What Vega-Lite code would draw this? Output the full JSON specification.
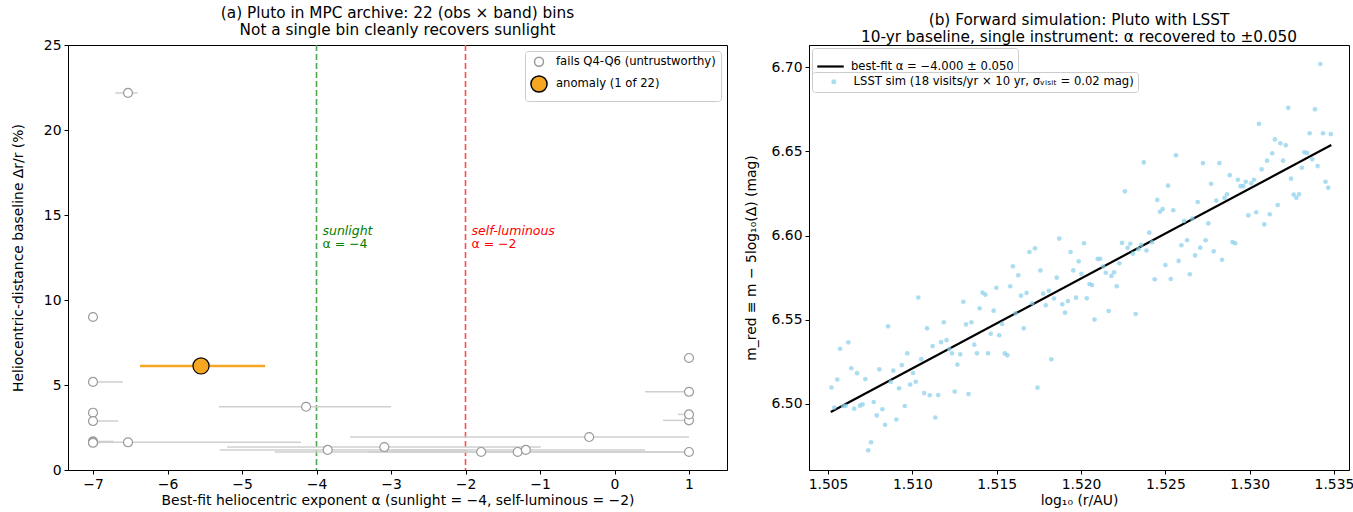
{
  "$schema": "https://vega.github.io/schema/vega-lite/v6.json",
  "padding": {"left": 10, "right": 4, "top": 5, "bottom": 1},
  "spacing": 15,
  "resolve": {
    "scale": {"color": "independent", "fill": "independent", "stroke": "independent", "size": "independent", "strokeWidth": "independent"},
    "legend": {"color": "independent", "fill": "independent", "stroke": "independent", "size": "independent", "strokeWidth": "independent"}
  },
  "config": {
    "font": "DejaVu Sans",
    "view": {"stroke": "black", "strokeWidth": 1},
    "axis": {"grid": false, "domainColor": "black", "tickColor": "black", "labelColor": "black", "titleColor": "black", "labelFontSize": 13.9, "titleFontSize": 13.9, "titleFontWeight": "normal", "tickSize": 4, "labelPadding": 3, "labelFont": "DejaVu Sans", "titleFont": "DejaVu Sans"},
    "title": {"fontSize": 15.3, "fontWeight": "normal", "font": "DejaVu Sans", "lineHeight": 17, "color": "black"},
    "legend": {"labelFont": "DejaVu Sans", "labelFontSize": 11.6, "labelColor": "black", "labelLimit": 500}
  },
  "hconcat": [
    {
      "width": 659,
      "height": 425,
      "title": {"text": ["(a) Pluto in MPC archive: 22 (obs × band) bins", "Not a single bin cleanly recovers sunlight"], "offset": 0},
      "resolve": {"scale": {"color": "independent", "strokeWidth": "independent"}},
      "layer": [
        {
          "data": {"values": [{"a": -4, "grp": "sun"}, {"a": -2, "grp": "self"}]},
          "mark": {"type": "rule", "strokeDash": [6, 3], "strokeWidth": 1.6},
          "encoding": {
            "x": {"field": "a", "type": "quantitative", "scale": {"domain": [-7.3356, 1.51], "nice": false, "zero": false}, "axis": {"values": [-7, -6, -5, -4, -3, -2, -1, 0, 1], "format": "d", "title": "Best-fit heliocentric exponent α  (sunlight = −4, self-luminous = −2)", "titlePadding": 3}},
            "color": {"field": "grp", "type": "nominal", "scale": {"domain": ["sun", "self"], "range": ["#4ca64c", "#ff4c4c"]}, "legend": null}
          }
        },
        {
          "data": {"values": [{"a": -3.92, "dr": 14.06, "label": "sunlight", "grp": "sun"}, {"a": -1.92, "dr": 14.06, "label": "self-luminous", "grp": "self"}]},
          "mark": {"type": "text", "align": "left", "baseline": "middle", "fontStyle": "italic", "fontSize": 12.5},
          "encoding": {
            "x": {"field": "a", "type": "quantitative"},
            "y": {"field": "dr", "type": "quantitative"},
            "text": {"field": "label"},
            "color": {"field": "grp", "type": "nominal", "scale": {"domain": ["sun", "self"], "range": ["#008000", "#ff0000"]}, "legend": null}
          }
        },
        {
          "data": {"values": [{"a": -3.92, "dr": 13.3, "label": "α = −4", "grp": "sun"}, {"a": -1.92, "dr": 13.3, "label": "α = −2", "grp": "self"}]},
          "mark": {"type": "text", "align": "left", "baseline": "middle", "fontSize": 12.5},
          "encoding": {
            "x": {"field": "a", "type": "quantitative"},
            "y": {"field": "dr", "type": "quantitative"},
            "text": {"field": "label"},
            "color": {"field": "grp", "type": "nominal", "scale": {"domain": ["sun", "self"], "range": ["#008000", "#ff0000"]}, "legend": null}
          }
        },
        {
          "data": {"name": "bins"},
          "mark": {"type": "rule"},
          "encoding": {
            "x": {"field": "lo", "type": "quantitative"},
            "x2": {"field": "hi"},
            "y": {"field": "dr", "type": "quantitative"},
            "color": {"field": "kind", "type": "nominal", "scale": {"domain": ["fails Q4-Q6 (untrustworthy)", "anomaly (1 of 22)"], "range": ["#cfcfcf", "#f5a623"]}, "legend": null},
            "strokeWidth": {"field": "kind", "type": "ordinal", "scale": {"domain": ["fails Q4-Q6 (untrustworthy)", "anomaly (1 of 22)"], "range": [1.5, 2.5]}, "legend": null}
          }
        },
        {
          "data": {"name": "bins"},
          "mark": {"type": "point", "shape": "circle", "filled": false, "opacity": 1, "strokeWidth": 1.2},
          "encoding": {
            "x": {"field": "alpha", "type": "quantitative"},
            "y": {"field": "dr", "type": "quantitative", "scale": {"domain": [0, 25], "nice": false, "zero": false}, "axis": {"values": [0, 5, 10, 15, 20, 25], "title": "Heliocentric-distance baseline  Δr/r  (%)", "titlePadding": 18}},
            "fill": {"field": "kind", "type": "nominal", "scale": {"domain": ["fails Q4-Q6 (untrustworthy)", "anomaly (1 of 22)"], "range": ["white", "#f5a623"]},
              "legend": {"title": null, "orient": "top-right", "offset": 6, "fillColor": "white", "strokeColor": "#cccccc", "cornerRadius": 3, "padding": 5, "rowPadding": 2, "labelOffset": 8}},
            "stroke": {"field": "kind", "type": "nominal", "scale": {"domain": ["fails Q4-Q6 (untrustworthy)", "anomaly (1 of 22)"], "range": ["#9a9a9a", "black"]},
              "legend": {"title": null, "orient": "top-right", "offset": 6, "fillColor": "white", "strokeColor": "#cccccc", "cornerRadius": 3, "padding": 5, "rowPadding": 2, "labelOffset": 8}},
            "size": {"field": "kind", "type": "nominal", "scale": {"domain": ["fails Q4-Q6 (untrustworthy)", "anomaly (1 of 22)"], "range": [80, 260]},
              "legend": {"title": null, "orient": "top-right", "offset": 6, "fillColor": "white", "strokeColor": "#cccccc", "cornerRadius": 3, "padding": 5, "rowPadding": 2, "labelOffset": 8}}
          }
        }
      ]
    },
    {
      "width": 540,
      "height": 425,
      "title": {"text": ["(b) Forward simulation: Pluto with LSST", "10-yr baseline, single instrument: α recovered to ±0.050"], "offset": 0},
      "layer": [
        {
          "data": {"values": [{"logr": 1.50516, "mred": 6.4953}, {"logr": 1.53484, "mred": 6.6537}]},
          "mark": {"type": "line", "strokeWidth": 2.2},
          "encoding": {
            "x": {"field": "logr", "type": "quantitative", "scale": {"domain": [1.50387, 1.53589], "nice": false, "zero": false}, "axis": {"values": [1.505, 1.51, 1.515, 1.52, 1.525, 1.53, 1.535], "format": ".3f", "title": "log₁₀ (r/AU)", "titlePadding": 3}},
            "y": {"field": "mred", "type": "quantitative", "scale": {"domain": [6.46083, 6.71306], "nice": false, "zero": false}, "axis": {"values": [6.5, 6.55, 6.6, 6.65, 6.7], "format": ".2f", "title": "m_red ≡ m − 5log₁₀(Δ)  (mag)", "titlePadding": 13}},
            "stroke": {"datum": "best-fit α = −4.000 ± 0.050", "type": "nominal", "scale": {"range": ["black"]},
              "legend": {"title": null, "orient": "top-left", "offset": 3, "fillColor": "white", "strokeColor": "#cccccc", "cornerRadius": 3, "padding": 4, "symbolSize": 700, "symbolStrokeWidth": 2.2, "labelOffset": 6}}
          }
        },
        {
          "data": {"name": "sim"},
          "mark": {"type": "circle", "size": 22, "opacity": 0.7},
          "encoding": {
            "x": {"field": "logr", "type": "quantitative"},
            "y": {"field": "mred", "type": "quantitative"},
            "color": {"datum": "LSST sim (18 visits/yr × 10 yr, σᵥᵢₛᵢₜ = 0.02 mag)", "type": "nominal", "scale": {"range": ["#87ceeb"]},
              "legend": {"title": null, "orient": "none", "legendX": 3, "legendY": 27, "fillColor": "white", "strokeColor": "#cccccc", "cornerRadius": 3, "padding": 4, "symbolSize": 25, "labelOffset": 14, "symbolOffset": 12}}
          }
        }
      ]
    }
  ],
  "datasets": {
    "bins": [
      {"alpha": -6.53, "lo": -6.70, "hi": -6.40, "dr": 22.18, "kind": "fails Q4-Q6 (untrustworthy)"},
      {"alpha": -7, "lo": -7, "hi": -7, "dr": 9.0, "kind": "fails Q4-Q6 (untrustworthy)"},
      {"alpha": -7, "lo": -7, "hi": -6.6, "dr": 5.18, "kind": "fails Q4-Q6 (untrustworthy)"},
      {"alpha": -7, "lo": -7.04, "hi": -6.96, "dr": 3.37, "kind": "fails Q4-Q6 (untrustworthy)"},
      {"alpha": -7, "lo": -7, "hi": -6.66, "dr": 2.88, "kind": "fails Q4-Q6 (untrustworthy)"},
      {"alpha": -7, "lo": -7, "hi": -6.72, "dr": 1.68, "kind": "fails Q4-Q6 (untrustworthy)"},
      {"alpha": -7, "lo": -7, "hi": -6.8, "dr": 1.63, "kind": "fails Q4-Q6 (untrustworthy)"},
      {"alpha": -7, "lo": -7, "hi": -6.9, "dr": 1.6, "kind": "fails Q4-Q6 (untrustworthy)"},
      {"alpha": -6.53, "lo": -7, "hi": -4.21, "dr": 1.63, "kind": "fails Q4-Q6 (untrustworthy)"},
      {"alpha": -4.14, "lo": -5.31, "hi": -3.0, "dr": 3.72, "kind": "fails Q4-Q6 (untrustworthy)"},
      {"alpha": -3.85, "lo": -5.3, "hi": -2.0, "dr": 1.18, "kind": "fails Q4-Q6 (untrustworthy)"},
      {"alpha": -3.09, "lo": -5.2, "hi": -0.99, "dr": 1.35, "kind": "fails Q4-Q6 (untrustworthy)"},
      {"alpha": -1.79, "lo": -4.56, "hi": 1.0, "dr": 1.06, "kind": "fails Q4-Q6 (untrustworthy)"},
      {"alpha": -1.30, "lo": -3.3, "hi": 0.41, "dr": 1.06, "kind": "fails Q4-Q6 (untrustworthy)"},
      {"alpha": -1.19, "lo": -3.0, "hi": 0.41, "dr": 1.18, "kind": "fails Q4-Q6 (untrustworthy)"},
      {"alpha": -0.34, "lo": -3.55, "hi": 1.0, "dr": 1.94, "kind": "fails Q4-Q6 (untrustworthy)"},
      {"alpha": 1, "lo": 0.41, "hi": 1, "dr": 1.06, "kind": "fails Q4-Q6 (untrustworthy)"},
      {"alpha": 1, "lo": 0.65, "hi": 1, "dr": 2.92, "kind": "fails Q4-Q6 (untrustworthy)"},
      {"alpha": 1, "lo": 0.85, "hi": 1, "dr": 3.27, "kind": "fails Q4-Q6 (untrustworthy)"},
      {"alpha": 1, "lo": 0.41, "hi": 1, "dr": 4.6, "kind": "fails Q4-Q6 (untrustworthy)"},
      {"alpha": 1, "lo": 1, "hi": 1, "dr": 6.59, "kind": "fails Q4-Q6 (untrustworthy)"},
      {"alpha": -5.55, "lo": -6.37, "hi": -4.69, "dr": 6.12, "kind": "anomaly (1 of 22)"}
    ],
    "sim": [
      {"logr": 1.50520, "mred": 6.5098}, {"logr": 1.50537, "mred": 6.4979}, {"logr": 1.50555, "mred": 6.5145}, {"logr": 1.50571, "mred": 6.5328},
      {"logr": 1.50589, "mred": 6.4988}, {"logr": 1.50604, "mred": 6.4989}, {"logr": 1.50620, "mred": 6.5366}, {"logr": 1.50638, "mred": 6.5212},
      {"logr": 1.50655, "mred": 6.4972}, {"logr": 1.50672, "mred": 6.5183}, {"logr": 1.50689, "mred": 6.4990}, {"logr": 1.50705, "mred": 6.4998},
      {"logr": 1.50721, "mred": 6.5148}, {"logr": 1.50738, "mred": 6.4725}, {"logr": 1.50755, "mred": 6.4773}, {"logr": 1.50771, "mred": 6.5012},
      {"logr": 1.50789, "mred": 6.4932}, {"logr": 1.50804, "mred": 6.5206}, {"logr": 1.50822, "mred": 6.4969}, {"logr": 1.50838, "mred": 6.4877},
      {"logr": 1.50856, "mred": 6.5461}, {"logr": 1.50872, "mred": 6.5131}, {"logr": 1.50887, "mred": 6.5198}, {"logr": 1.50905, "mred": 6.4908},
      {"logr": 1.50921, "mred": 6.5093}, {"logr": 1.50937, "mred": 6.5231}, {"logr": 1.50955, "mred": 6.4988}, {"logr": 1.50970, "mred": 6.5301},
      {"logr": 1.50987, "mred": 6.5115}, {"logr": 1.51004, "mred": 6.5184}, {"logr": 1.51020, "mred": 6.5132}, {"logr": 1.51035, "mred": 6.5632},
      {"logr": 1.51053, "mred": 6.5266}, {"logr": 1.51070, "mred": 6.5065}, {"logr": 1.51087, "mred": 6.5449}, {"logr": 1.51103, "mred": 6.5052},
      {"logr": 1.51120, "mred": 6.5344}, {"logr": 1.51136, "mred": 6.4920}, {"logr": 1.51153, "mred": 6.5053}, {"logr": 1.51170, "mred": 6.5367},
      {"logr": 1.51186, "mred": 6.5485}, {"logr": 1.51203, "mred": 6.5379}, {"logr": 1.51219, "mred": 6.5326}, {"logr": 1.51235, "mred": 6.5301},
      {"logr": 1.51251, "mred": 6.5074}, {"logr": 1.51267, "mred": 6.5234}, {"logr": 1.51284, "mred": 6.5295}, {"logr": 1.51302, "mred": 6.5607},
      {"logr": 1.51318, "mred": 6.5472}, {"logr": 1.51333, "mred": 6.5059}, {"logr": 1.51350, "mred": 6.5485}, {"logr": 1.51367, "mred": 6.5352},
      {"logr": 1.51383, "mred": 6.5301}, {"logr": 1.51399, "mred": 6.5568}, {"logr": 1.51416, "mred": 6.5661}, {"logr": 1.51433, "mred": 6.5649},
      {"logr": 1.51449, "mred": 6.5301}, {"logr": 1.51465, "mred": 6.5417}, {"logr": 1.51482, "mred": 6.5554}, {"logr": 1.51498, "mred": 6.5690},
      {"logr": 1.51515, "mred": 6.5408}, {"logr": 1.51532, "mred": 6.5475}, {"logr": 1.51548, "mred": 6.5300}, {"logr": 1.51563, "mred": 6.5289},
      {"logr": 1.51580, "mred": 6.5699}, {"logr": 1.51596, "mred": 6.5817}, {"logr": 1.51612, "mred": 6.5538}, {"logr": 1.51628, "mred": 6.5764},
      {"logr": 1.51644, "mred": 6.5643}, {"logr": 1.51660, "mred": 6.5449}, {"logr": 1.51677, "mred": 6.5659}, {"logr": 1.51694, "mred": 6.5902},
      {"logr": 1.51710, "mred": 6.5598}, {"logr": 1.51727, "mred": 6.5924}, {"logr": 1.51742, "mred": 6.5097}, {"logr": 1.51759, "mred": 6.5793},
      {"logr": 1.51775, "mred": 6.5655}, {"logr": 1.51791, "mred": 6.5586}, {"logr": 1.51809, "mred": 6.5672}, {"logr": 1.51824, "mred": 6.5265},
      {"logr": 1.51840, "mred": 6.5626}, {"logr": 1.51856, "mred": 6.5750}, {"logr": 1.51871, "mred": 6.5982}, {"logr": 1.51889, "mred": 6.5592},
      {"logr": 1.51905, "mred": 6.5542}, {"logr": 1.51922, "mred": 6.5611}, {"logr": 1.51938, "mred": 6.5902}, {"logr": 1.51954, "mred": 6.5793},
      {"logr": 1.51970, "mred": 6.5631}, {"logr": 1.51986, "mred": 6.5847}, {"logr": 1.52002, "mred": 6.5773}, {"logr": 1.52018, "mred": 6.5954},
      {"logr": 1.52034, "mred": 6.5627}, {"logr": 1.52050, "mred": 6.5712}, {"logr": 1.52065, "mred": 6.5706}, {"logr": 1.52080, "mred": 6.5501},
      {"logr": 1.52099, "mred": 6.5861}, {"logr": 1.52114, "mred": 6.5862}, {"logr": 1.52132, "mred": 6.5816}, {"logr": 1.52147, "mred": 6.5779},
      {"logr": 1.52164, "mred": 6.5552}, {"logr": 1.52180, "mred": 6.5760}, {"logr": 1.52196, "mred": 6.5782}, {"logr": 1.52212, "mred": 6.5699},
      {"logr": 1.52227, "mred": 6.5835}, {"logr": 1.52243, "mred": 6.5956}, {"logr": 1.52260, "mred": 6.6262}, {"logr": 1.52276, "mred": 6.5927},
      {"logr": 1.52292, "mred": 6.5951}, {"logr": 1.52308, "mred": 6.5893}, {"logr": 1.52324, "mred": 6.5534}, {"logr": 1.52341, "mred": 6.5919},
      {"logr": 1.52357, "mred": 6.5945}, {"logr": 1.52372, "mred": 6.6434}, {"logr": 1.52388, "mred": 6.5911}, {"logr": 1.52405, "mred": 6.6017},
      {"logr": 1.52421, "mred": 6.5960}, {"logr": 1.52437, "mred": 6.5740}, {"logr": 1.52452, "mred": 6.6211}, {"logr": 1.52468, "mred": 6.6141},
      {"logr": 1.52484, "mred": 6.6157}, {"logr": 1.52500, "mred": 6.5825}, {"logr": 1.52516, "mred": 6.6296}, {"logr": 1.52532, "mred": 6.5742},
      {"logr": 1.52547, "mred": 6.6150}, {"logr": 1.52563, "mred": 6.6476}, {"logr": 1.52579, "mred": 6.5849}, {"logr": 1.52595, "mred": 6.5942},
      {"logr": 1.52611, "mred": 6.6086}, {"logr": 1.52629, "mred": 6.5972}, {"logr": 1.52645, "mred": 6.5770}, {"logr": 1.52660, "mred": 6.6100},
      {"logr": 1.52676, "mred": 6.5882}, {"logr": 1.52692, "mred": 6.6199}, {"logr": 1.52707, "mred": 6.5928}, {"logr": 1.52723, "mred": 6.6430},
      {"logr": 1.52739, "mred": 6.5972}, {"logr": 1.52755, "mred": 6.6072}, {"logr": 1.52771, "mred": 6.6307}, {"logr": 1.52787, "mred": 6.5906},
      {"logr": 1.52802, "mred": 6.6207}, {"logr": 1.52820, "mred": 6.6430}, {"logr": 1.52836, "mred": 6.5856}, {"logr": 1.52851, "mred": 6.6223},
      {"logr": 1.52866, "mred": 6.6245}, {"logr": 1.52882, "mred": 6.6358}, {"logr": 1.52898, "mred": 6.5961}, {"logr": 1.52914, "mred": 6.5954},
      {"logr": 1.52930, "mred": 6.6331}, {"logr": 1.52946, "mred": 6.6293}, {"logr": 1.52962, "mred": 6.6293}, {"logr": 1.52977, "mred": 6.6319},
      {"logr": 1.52992, "mred": 6.6120}, {"logr": 1.53009, "mred": 6.6310}, {"logr": 1.53025, "mred": 6.6331}, {"logr": 1.53039, "mred": 6.6138},
      {"logr": 1.53055, "mred": 6.6663}, {"logr": 1.53071, "mred": 6.6393}, {"logr": 1.53087, "mred": 6.6066}, {"logr": 1.53103, "mred": 6.6444},
      {"logr": 1.53119, "mred": 6.6126}, {"logr": 1.53134, "mred": 6.6488}, {"logr": 1.53150, "mred": 6.6571}, {"logr": 1.53166, "mred": 6.6181},
      {"logr": 1.53182, "mred": 6.6547}, {"logr": 1.53198, "mred": 6.6444}, {"logr": 1.53214, "mred": 6.6535}, {"logr": 1.53229, "mred": 6.6758},
      {"logr": 1.53245, "mred": 6.6337}, {"logr": 1.53261, "mred": 6.6243}, {"logr": 1.53277, "mred": 6.6224}, {"logr": 1.53293, "mred": 6.6245},
      {"logr": 1.53309, "mred": 6.6402}, {"logr": 1.53324, "mred": 6.6494}, {"logr": 1.53340, "mred": 6.6490}, {"logr": 1.53356, "mred": 6.6607},
      {"logr": 1.53371, "mred": 6.6452}, {"logr": 1.53387, "mred": 6.6749}, {"logr": 1.53403, "mred": 6.6412}, {"logr": 1.53419, "mred": 6.7018},
      {"logr": 1.53435, "mred": 6.6607}, {"logr": 1.53450, "mred": 6.6319}, {"logr": 1.53466, "mred": 6.6284}, {"logr": 1.53481, "mred": 6.6602}
    ]
  }
}
